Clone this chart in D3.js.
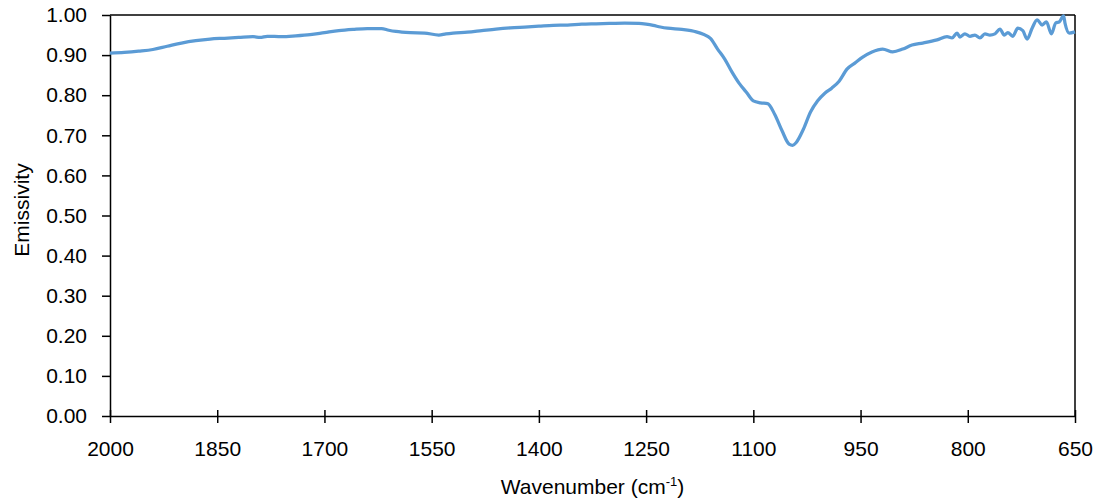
<!DOCTYPE html>
<html>
<head>
<meta charset="utf-8">
<script src="https://cdn.jsdelivr.net/npm/d3@7"></script>
<style>
  body { margin: 0; background: #fff; }
  svg text { font-family: "Liberation Sans", Arial, sans-serif; fill: #000; }
</style>
</head>
<body>
<script>
// wavenumber (cm-1) and emissivity
var wavenumbers = [2000,1980,1960,1940,1920,1900,1880,1860,1840,1820,1800,1790,1780,1760,1740,1720,1700,1680,1660,1640,1620,1610,1600,1580,1560,1540,1530,1520,1500,1480,1460,1440,1420,1400,1380,1360,1340,1320,1300,1280,1260,1250,1240,1230,1220,1200,1180,1170,1160,1150,1140,1130,1120,1110,1100,1090,1080,1070,1060,1050,1045,1040,1030,1020,1010,1000,990,980,969,958,947,934,919,905,891,878,863,843,829,822,815,811,804,797,790,783,776,769,762,755,749,744,737,730,723,717,710,703,696,690,683,677,672,666,664,658,650];
var emissivity = [0.905,0.907,0.910,0.914,0.922,0.930,0.936,0.940,0.942,0.944,0.946,0.944,0.947,0.946,0.948,0.951,0.956,0.961,0.964,0.966,0.966,0.962,0.959,0.956,0.955,0.950,0.953,0.955,0.957,0.961,0.965,0.968,0.970,0.972,0.974,0.975,0.977,0.978,0.979,0.980,0.979,0.977,0.974,0.970,0.967,0.964,0.958,0.952,0.942,0.915,0.890,0.858,0.830,0.808,0.786,0.781,0.779,0.752,0.712,0.678,0.675,0.682,0.715,0.758,0.786,0.805,0.818,0.835,0.865,0.880,0.895,0.908,0.915,0.908,0.915,0.925,0.930,0.938,0.946,0.943,0.955,0.945,0.953,0.947,0.950,0.943,0.953,0.950,0.953,0.965,0.950,0.956,0.947,0.967,0.961,0.940,0.967,0.988,0.975,0.983,0.953,0.980,0.983,0.998,0.980,0.955,0.958];
var xTicks = [2000,1850,1700,1550,1400,1250,1100,950,800,650];
var yTicks = [0,0.1,0.2,0.3,0.4,0.5,0.6,0.7,0.8,0.9,1.0];

var W = 1101, H = 501;
var pLeft = 110, pRight = 1075, pTop = 15, pBottom = 416;

var svg = d3.select("body").append("svg")
    .attr("width", W)
    .attr("height", H);

var x = d3.scaleLinear().domain([2000, 650]).range([pLeft, pRight]);
var y = d3.scaleLinear().domain([0, 1]).range([pBottom, pTop]);

// y axis
var yAxis = svg.append("g")
    .attr("transform", "translate(" + pLeft + ",0)")
    .call(d3.axisLeft(y).tickValues(yTicks).tickFormat(d3.format(".2f"))
        .tickSize(8).tickPadding(15).tickSizeOuter(0));
yAxis.selectAll("text").style("font-size", "21px");

// x axis, ticks cross the line
var xAxis = svg.append("g")
    .attr("transform", "translate(0," + pBottom + ")")
    .call(d3.axisBottom(x).tickValues(xTicks).tickFormat(d3.format("d"))
        .tickSizeOuter(0));
xAxis.selectAll(".tick line").attr("y1", -6).attr("y2", 7);
xAxis.selectAll("text").attr("y", 40).attr("dy", 0).style("font-size", "21px");

svg.selectAll(".domain, .tick line")
    .attr("stroke", "#000")
    .attr("stroke-width", 1.5);

// frame top and right
svg.append("line")
    .attr("x1", pLeft).attr("x2", pRight)
    .attr("y1", pTop).attr("y2", pTop)
    .attr("stroke", "#000").attr("stroke-width", 1.5);
svg.append("line")
    .attr("x1", pRight).attr("x2", pRight)
    .attr("y1", pTop).attr("y2", pBottom)
    .attr("stroke", "#000").attr("stroke-width", 1.5);

// spectrum
var line = d3.line()
    .x(function(d, i) { return x(wavenumbers[i]); })
    .y(function(d) { return y(d); })
    .curve(d3.curveMonotoneX);

svg.append("path")
    .datum(emissivity)
    .attr("d", line)
    .attr("fill", "none")
    .attr("stroke", "#5B9BD5")
    .attr("stroke-width", 3.25)
    .attr("stroke-linejoin", "round");

// titles
svg.append("text")
    .attr("transform", "translate(29,210) rotate(-90)")
    .attr("text-anchor", "middle")
    .style("font-size", "21px")
    .text("Emissivity");

var xt = svg.append("text")
    .attr("x", (pLeft + pRight) / 2)
    .attr("y", 494)
    .attr("text-anchor", "middle")
    .style("font-size", "21px");
xt.append("tspan").text("Wavenumber (cm");
xt.append("tspan").attr("dy", -8).style("font-size", "13px").text("-1");
xt.append("tspan").attr("dy", 8).text(")");
</script>
</body>
</html>
